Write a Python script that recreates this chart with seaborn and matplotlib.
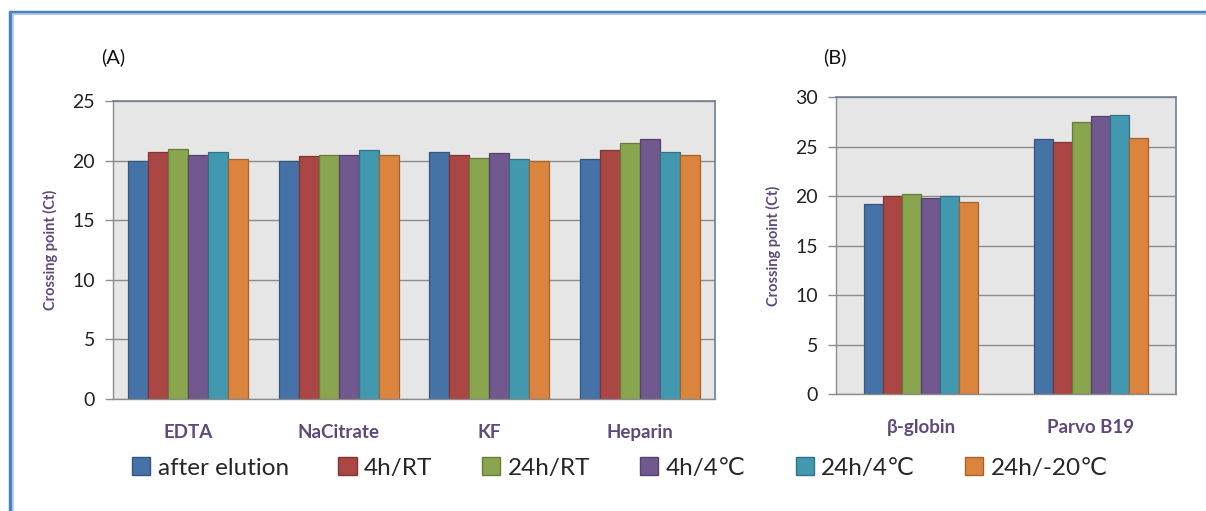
import matplotlib
matplotlib.use("Agg")
import matplotlib.pyplot as plt
import matplotlib.colors as mcolors
from matplotlib.lines import Line2D
from matplotlib.patches import Patch
import seaborn as sns
import pandas as pd

# ---- data ----
conditions = ["after elution", "4h/RT", "24h/RT", "4h/4\u2103", "24h/4\u2103", "24h/-20\u2103"]
anticoag = ["EDTA", "NaCitrate", "KF", "Heparin"]
vals_A = {
    "after elution": [20.0, 20.0, 20.75, 20.1],
    "4h/RT":         [20.7, 20.4, 20.5, 20.9],
    "24h/RT":        [21.0, 20.5, 20.2, 21.5],
    "4h/4\u2103":    [20.45, 20.45, 20.6, 21.8],
    "24h/4\u2103":   [20.75, 20.9, 20.15, 20.75],
    "24h/-20\u2103": [20.1, 20.5, 20.0, 20.45],
}
targets = ["\u03b2-globin", "Parvo B19"]
vals_B = {
    "after elution": [19.2, 25.8],
    "4h/RT":         [20.0, 25.5],
    "24h/RT":        [20.2, 27.45],
    "4h/4\u2103":    [19.8, 28.05],
    "24h/4\u2103":   [20.0, 28.15],
    "24h/-20\u2103": [19.4, 25.85],
}
colors = ["#4572A7", "#AA4643", "#89A54E", "#71588F", "#4198AF", "#DB843D"]

dfA = pd.DataFrame([(c, k, vals_A[k][i]) for k in conditions for i, c in enumerate(anticoag)],
                   columns=["cat", "cond", "ct"])
dfB = pd.DataFrame([(c, k, vals_B[k][i]) for k in conditions for i, c in enumerate(targets)],
                   columns=["cat", "cond", "ct"])

sns.set_theme(style="white")
plt.rcParams["font.family"] = ["Lato", "DejaVu Sans"]

W, H = 1206, 511
fig = plt.figure(figsize=(W / 100, H / 100), dpi=100)
fig.patch.set_facecolor("white")

def ax_rect(x0, y0, x1, y1):
    return [x0 / W, 1 - y1 / H, (x1 - x0) / W, (y1 - y0) / H]

axA = fig.add_axes(ax_rect(113, 101, 715, 399))
axB = fig.add_axes(ax_rect(836, 97, 1176, 394))

purple = "#5F497A"
pal = dict(zip(conditions, colors))

def style(ax, df, width, ymax, ystep):
    sns.barplot(data=df, x="cat", y="ct", hue="cond", hue_order=conditions, order=list(dict.fromkeys(df["cat"])),
                palette=pal, width=width, ax=ax, legend=False, saturation=1, errorbar=None)
    for p in ax.patches:
        fc = p.get_facecolor()
        dark = tuple(max(0, c * 0.75) for c in fc[:3])
        p.set_edgecolor(dark)
        p.set_linewidth(0.9)
    ax.set_facecolor("#E6E6E6")
    ax.set_ylim(0, ymax)
    ax.set_yticks(range(0, ymax + 1, ystep))
    ax.yaxis.grid(True, color="#8C8C8C", linewidth=1.0)
    ax.set_axisbelow(True)
    ax.set_xlabel("")
    ax.set_ylabel("Crossing point (Ct)", color=purple, fontsize=10.5, fontweight="bold", labelpad=10)
    for s in ["left", "bottom"]:
        ax.spines[s].set_color("#8C8C8C")
        ax.spines[s].set_linewidth(1.0)
    for s in ["top", "right"]:
        ax.spines[s].set_color("#6F7F95")
        ax.spines[s].set_linewidth(1.2)
    ax.tick_params(axis="y", which="both", left=True, length=6, width=1, color="#8C8C8C",
                   labelsize=14, labelcolor="#222222", pad=7)
    ax.tick_params(axis="x", bottom=False, labelsize=13.5, labelcolor=purple, pad=12)
    for t in ax.get_xticklabels():
        t.set_fontweight("bold")

style(axA, dfA, 0.8, 25, 5)
style(axB, dfB, 0.67, 30, 5)

fig.text(113 / W, 1 - 57 / H, "(A)", fontsize=14.5, ha="center", va="center", color="#111111")
fig.text(835 / W, 1 - 57 / H, "(B)", fontsize=14.5, ha="center", va="center", color="#111111")

# legend
handles = [Patch(facecolor=c, edgecolor=tuple(x * 0.75 for x in mcolors.to_rgb(c)), label=k)
           for k, c in zip(conditions, colors)]
leg = fig.legend(handles=handles, loc="center", bbox_to_anchor=(620 / W, 1 - 468 / H), ncol=6,
                 frameon=False, handlelength=0.75, handleheight=0.75,
                 handletextpad=0.3, columnspacing=2.05,
                 prop={"family": ["Lato", "DejaVu Sans"], "size": 17.5})

# window-like frame
fig.add_artist(Line2D([10 / W, 1], [1 - 12 / H, 1 - 12 / H], color="#4F81BD", linewidth=2.5, transform=fig.transFigure))
fig.add_artist(Line2D([10 / W, 10 / W], [0, 1 - 12 / H], color="#4F81BD", linewidth=2.5, transform=fig.transFigure))
fig.add_artist(Line2D([13 / W, 1], [1 - 14.5 / H, 1 - 14.5 / H], color="#A9C4EB", linewidth=1.2, transform=fig.transFigure))
fig.add_artist(Line2D([12.5 / W, 12.5 / W], [0, 1 - 14 / H], color="#A9C4EB", linewidth=1.2, transform=fig.transFigure))

fig.savefig("out.png", dpi=100)
